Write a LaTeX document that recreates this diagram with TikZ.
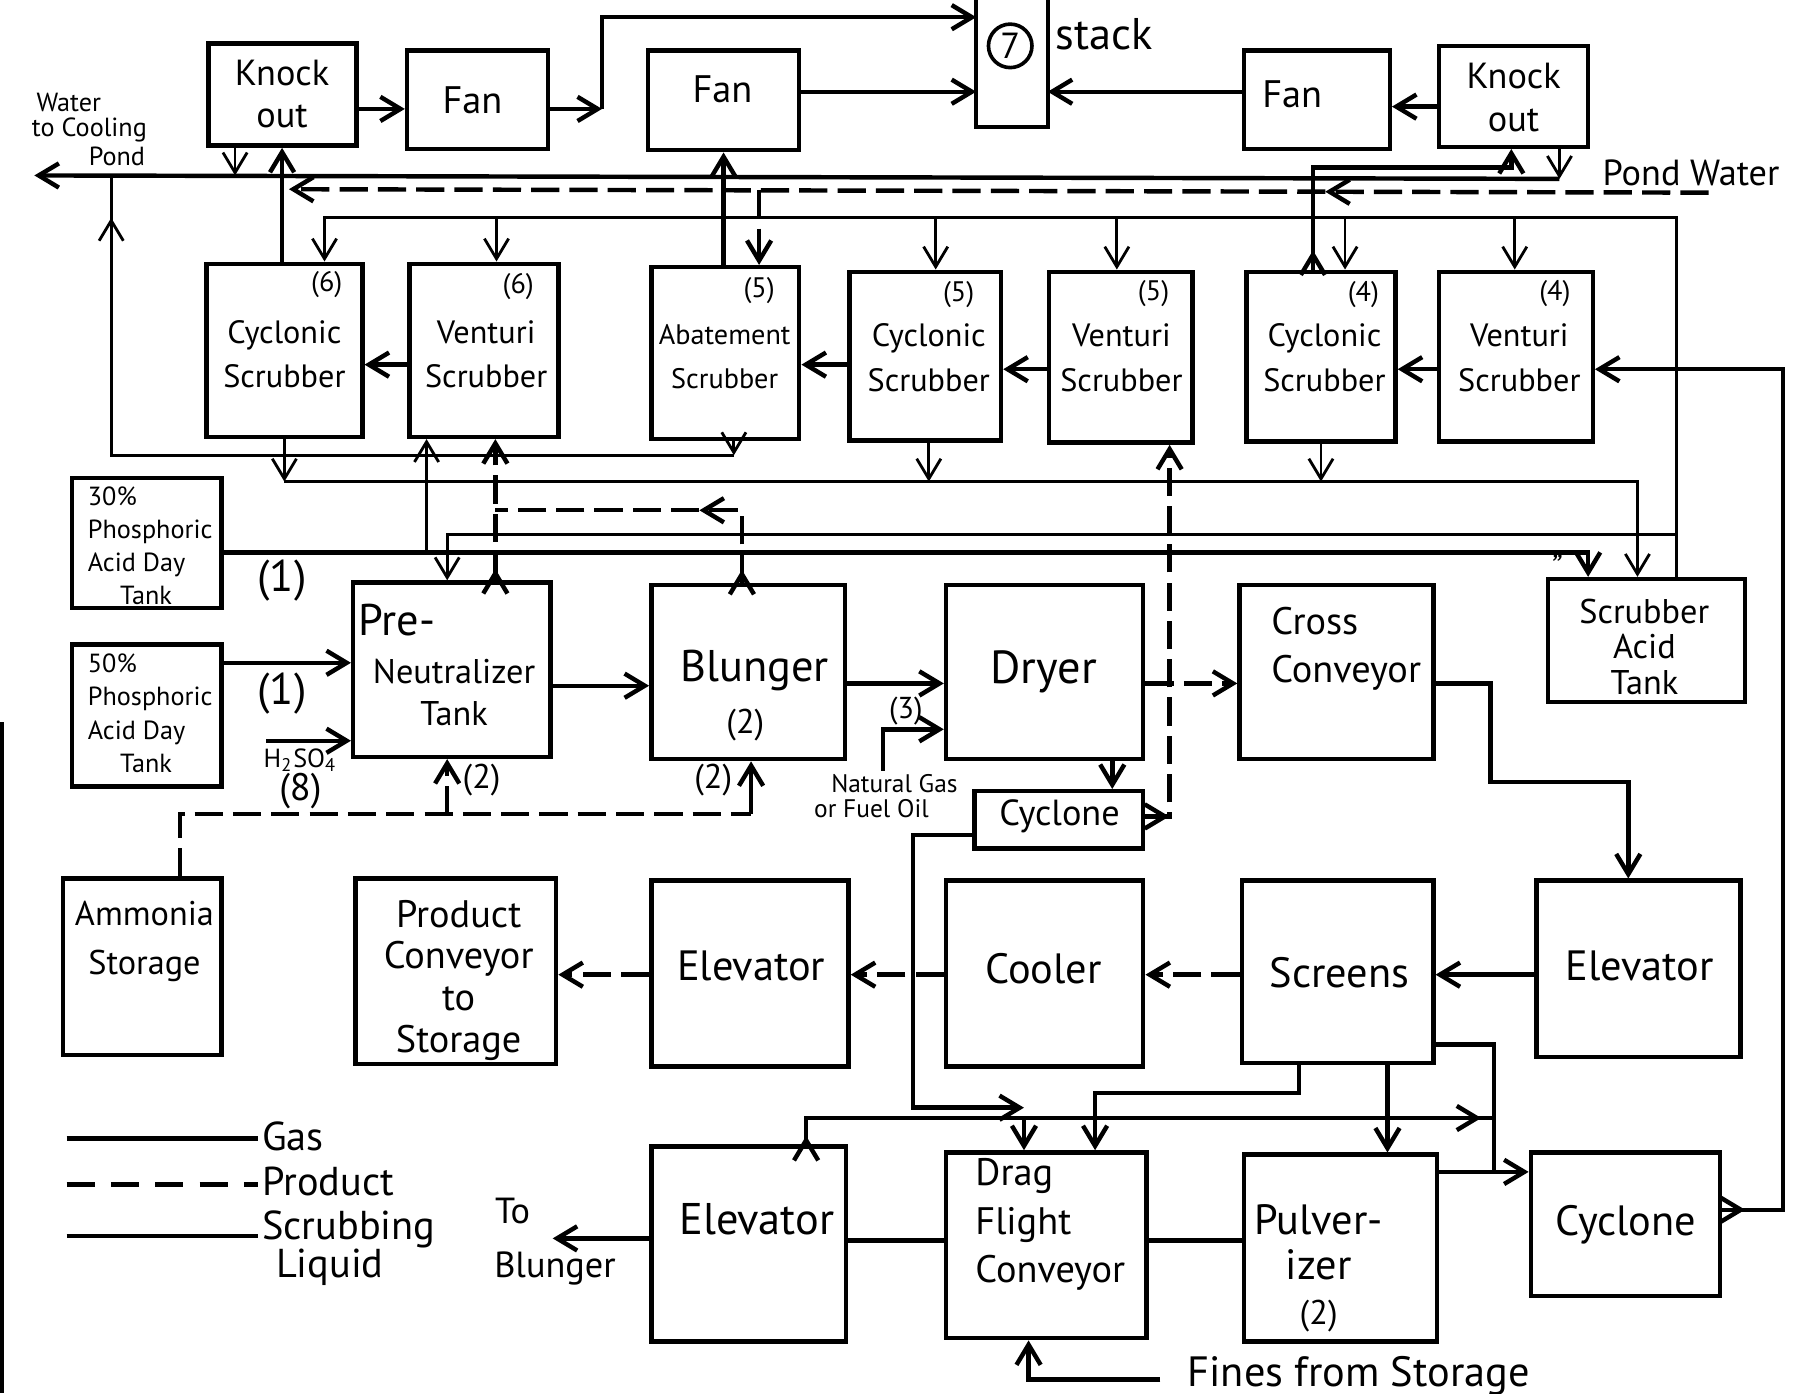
\documentclass[tikz,border=0pt]{standalone}
\usepackage{fontspec}
\setmainfont{PT Sans}
\usetikzlibrary{arrows.meta,fit,decorations.markings}
\newcommand\fz[2]{\fontsize{#1}{#2}\selectfont}
\begin{document}
\begin{tikzpicture}[x=0.01cm,y=-0.01cm,
  >={Straight Barb[length=5pt,width=6pt]},
  box/.style={draw, line width=1.1pt, inner sep=0pt},
  txt/.style={inner sep=0pt, align=center, font=\fz{9}{11}},
  gas/.style={line width=1.1pt},
  liq/.style={line width=0.7pt},
  prod/.style={line width=1.1pt, dash pattern=on 7pt off 2.5pt},
  marr/.style={postaction={decorate, solid, decoration={markings, mark=at position #1 with {\arrow{Straight Barb[length=5pt,width=6pt]}}}}}]
\useasboundingbox (0,0) rectangle (1568,1215);

% ---------- top row ----------
\node[box, fit={(182,38) (311,127)}] (ko1) {};
\node[txt, font=\fz{9}{10.5}] (ko1t) at (246,82) {Knock\\out};
\node[box, fit={(355,44) (478,130)}] (fan1) {};
\node[txt, font=\fz{9.5}{11}] (fan1t) at (412,87) {Fan};
\node[box, fit={(565,44) (697,131)}] (fan2) {};
\node[txt, font=\fz{9.5}{11}] (fan2t) at (630,78) {Fan};
\node[inner sep=0pt, fit={(852,0) (913,110)}] (stack) {};
\draw[line width=1.1pt] (stack.north west) -- (stack.south west) -- (stack.south east) -- (stack.north east);
\node[circle, draw, line width=0.9pt, inner sep=1pt, font=\fz{9}{10}] (n7) at (881,40) {7};
\node[txt, font=\fz{11}{12}, anchor=west] (stackt) at (920,30) {stack};
\node[box, fit={(1085,44) (1212,130)}] (fan3) {};
\node[txt, font=\fz{9.5}{11}] (fan3t) at (1127,82) {Fan};
\node[box, fit={(1255,40) (1385,128)}] (ko2) {};
\node[txt, font=\fz{9}{10.5}] (ko2t) at (1320,85) {Knock\\out};

\node[txt, font=\fz{6.5}{7}] (wt1) at (60,89) {Water};
\node[txt, font=\fz{6.5}{7}] (wt2) at (78,113) {to Cooling};
\node[txt, font=\fz{6.5}{7}] (wt3) at (102,136) {Pond};
\node[txt, font=\fz{9}{10}, anchor=south west] (pwt) at (1397,163) {Pond Water};

% ---------- scrubbers ----------
\node[box, fit={(180,230) (316,381)}] (s6c) {};
\node[box, fit={(357,230) (487,381)}] (s6v) {};
\node[box, fit={(568,233) (697,383)}] (s5a) {};
\node[box, fit={(741,237) (873,384)}] (s5c) {};
\node[box, fit={(915,237) (1040,386)}] (s5v) {};
\node[box, fit={(1087,237) (1217,385)}] (s4c) {};
\node[box, fit={(1255,237) (1389,385)}] (s4v) {};
\node[txt, font=\fz{8}{11}] (s6ct) at (248,309) {Cyclonic\\Scrubber};
\node[txt, font=\fz{8}{11}] (s6vt) at (424,309) {Venturi\\Scrubber};
\node[txt, font=\fz{7}{11}] (s5at) at (632,311) {Abatement\\Scrubber};
\node[txt, font=\fz{8}{11}] (s5ct) at (810,312) {Cyclonic\\Scrubber};
\node[txt, font=\fz{8}{11}] (s5vt) at (978,312) {Venturi\\Scrubber};
\node[txt, font=\fz{8}{11}] (s4ct) at (1155,312) {Cyclonic\\Scrubber};
\node[txt, font=\fz{8}{11}] (s4vt) at (1325,312) {Venturi\\Scrubber};
\node[txt, font=\fz{7}{8}] (g1) at (285,248) {(6)};
\node[txt, font=\fz{7}{8}] (g2) at (452,250) {(6)};
\node[txt, font=\fz{7}{8}] (g3) at (662,253) {(5)};
\node[txt, font=\fz{7}{8}] (g4) at (836,257) {(5)};
\node[txt, font=\fz{7}{8}] (g5) at (1006,256) {(5)};
\node[txt, font=\fz{7}{8}] (g6) at (1189,257) {(4)};
\node[txt, font=\fz{7}{8}] (g7) at (1356,256) {(4)};

% ---------- middle row ----------
\node[box, fit={(63,417) (193,530)}] (t30) {};
\node[txt, font=\fz{6.5}{8.2}, align=left, anchor=west] (t30t) at (76,476) {30\%\\Phosphoric\\Acid Day\\\hspace{8pt}Tank};
\node[box, fit={(63,562) (193,686)}] (t50) {};
\node[txt, font=\fz{6.5}{8.2}, align=left, anchor=west] (t50t) at (76,622) {50\%\\Phosphoric\\Acid Day\\\hspace{8pt}Tank};
\node[box, fit={(308,508) (480,660)}] (pn) {};
\node[txt, font=\fz{11}{12}] (pnt1) at (346,541) {Pre-};
\node[txt, font=\fz{8.5}{10.5}] (pnt2) at (396,604) {Neutralizer\\Tank};
\node[box, fit={(568,510) (737,662)}] (bl) {};
\node[txt, font=\fz{11}{12}] (blt) at (658,585) {Blunger};
\node[txt, font=\fz{8.5}{10}] (blt2) at (650,632) {(2)};
\node[box, fit={(825,510) (997,662)}] (dr) {};
\node[txt, font=\fz{11.5}{12}] (drt) at (910,586) {Dryer};
\node[box, fit={(1081,510) (1250,662)}] (cc) {};
\node[txt, font=\fz{9.5}{12}, align=left, anchor=west] (cct) at (1108,566) {Cross\\Conveyor};
\node[box, fit={(1350,505) (1522,612)}] (sat) {};
\node[txt, font=\fz{8.5}{8.8}] (satt) at (1434,564) {Scrubber\\Acid\\Tank};
\node[box, fit={(850,690) (997,740)}] (cy1) {};
\node[txt, font=\fz{9}{10}] (cy1t) at (924,712) {Cyclone};

\node[txt, font=\fz{11}{12}] (l1a) at (246,506) {(1)};
\node[txt, font=\fz{11}{12}] (l1b) at (246,605) {(1)};
\node[txt, font=\fz{6.5}{7}] (lh2) at (262,663) {H\textsubscript{2}SO\textsubscript{4}};
\node[txt, font=\fz{9.5}{10}] (l8) at (262,690) {(8)};
\node[txt, font=\fz{8.5}{10}] (l2a) at (420,680) {(2)};
\node[txt, font=\fz{8.5}{10}] (l2b) at (622,680) {(2)};
\node[txt, font=\fz{7.5}{8}] (l3) at (790,620) {(3)};
\node[txt, font=\fz{6.3}{7}] (lng1) at (780,683) {Natural Gas};
\node[txt, font=\fz{6.3}{7}] (lng2) at (760,705) {or Fuel Oil};
\node[txt, font=\fz{8}{9}] (ldit) at (1356,494) {\itshape ''};

% ---------- bottom rows ----------
\node[box, fit={(55,766) (193,920)}] (am) {};
\node[txt, font=\fz{8.5}{12}] (amt) at (126,821) {Ammonia\\Storage};
\node[box, fit={(310,766) (485,928)}] (pc) {};
\node[txt, font=\fz{9.5}{10.4}] (pct) at (400,855) {Product\\Conveyor\\to\\Storage};
\node[box, fit={(568,768) (740,930)}] (el1) {};
\node[txt, font=\fz{10.5}{12}] (el1t) at (655,842) {Elevator};
\node[box, fit={(825,768) (997,930)}] (co) {};
\node[txt, font=\fz{10.5}{12}] (cot) at (910,845) {Cooler};
\node[box, fit={(1083,768) (1250,927)}] (sc) {};
\node[txt, font=\fz{10.5}{12}] (sct) at (1168,848) {Screens};
\node[box, fit={(1340,768) (1518,922)}] (el2) {};
\node[txt, font=\fz{10.5}{12}] (el2t) at (1430,842) {Elevator};
\node[box, fit={(568,1000) (738,1170)}] (el3) {};
\node[txt, font=\fz{11}{13}] (el3t) at (660,1063) {Elevator};
\node[box, fit={(825,1005) (1000,1167)}] (dfc) {};
\node[txt, font=\fz{9.5}{12}, align=left, anchor=west] (dfct) at (850,1068) {Drag\\Flight\\Conveyor};
\node[box, fit={(1085,1007) (1253,1170)}] (pu) {};
\node[txt, font=\fz{10.5}{11.2}] (put) at (1150,1106) {Pulver-\\izer\\{\fz{8.5}{10}(2)}};
\node[box, fit={(1335,1005) (1500,1130)}] (cy2) {};
\node[txt, font=\fz{10.5}{12}] (cy2t) at (1418,1068) {Cyclone};

\node[txt, font=\fz{9}{10}] (tbt1) at (447,1056) {To};
\node[txt, font=\fz{9}{10}] (tbt2) at (484,1106) {Blunger};
\node[txt, font=\fz{10.5}{12}, anchor=west] (fst) at (1035,1200) {Fines from Storage};

% legend
\coordinate (lg1a) at (58,993); \coordinate (lg1b) at (225,993);
\coordinate (lg2a) at (58,1033); \coordinate (lg2b) at (225,1033);
\coordinate (lg3a) at (58,1078); \coordinate (lg3b) at (225,1078);
\draw[gas] (lg1a) -- (lg1b);
\draw[prod, dash pattern=on 7pt off 4pt] (lg2a) -- (lg2b);
\draw[gas] (lg3a) -- (lg3b);
\node[txt, font=\fz{10}{11}, anchor=west] (lgt1) at (228,991) {Gas};
\node[txt, font=\fz{10}{11}, anchor=west] (lgt2) at (228,1030) {Product};
\node[txt, font=\fz{10}{11}, anchor=west] (lgt3) at (228,1072) {Scrubbing};
\node[txt, font=\fz{10}{11}, anchor=west] (lgt4) at (240,1105) {Liquid};

% page edge
\coordinate (pe1) at (2,630); \coordinate (pe2) at (2,1215);
\draw[line width=1pt] (pe1) -- (pe2);

% ---------- connectors: top ----------
\draw[gas,->] (ko1.east |- 0,95) -- (fan1.west |- 0,95);
\coordinate (c1) at (525,95);
\draw[gas,->] (fan1.east |- 0,95) -- (c1);
\draw[gas,->] (c1) |- (stack.west |- 0,15);
\draw[gas,->] (fan2.east |- 0,80) -- (stack.west |- 0,80);
\draw[gas,->] (fan3.west |- 0,80) -- (stack.east |- 0,80);
\draw[gas,->] (ko2.west |- 0,93) -- (fan3.east |- 0,93);

\coordinate (wcp) at (30,153);
\coordinate (l1r) at (1360,156);
\draw[gas,->] (l1r) -- (wcp);
\draw[liq,->] (ko1.south -| 205,0) -- (205,153);
\draw[liq,->] (ko2.south -| 1360,0) -- (l1r);

\coordinate (pw) at (1490,168);
\draw[prod,->, marr=0.27] (pw) -- (252,165);
\draw[prod,->] (662,166) -- (s5a.north -| 662,0);

\draw[gas,->] (s6c.north -| 246,0) -- (ko1.south -| 246,0);
\draw[gas,->] (s5a.north -| 631,0) -- (fan2.south -| 631,0);
\draw[gas,->, marr=0.06] (s4c.north -| 1145,0) |- (1318,146) -- (ko2.south -| 1318,0);

% scrubbing liquid distribution
\coordinate (sd) at (1462,190);
\draw[liq,->] (sat.north -| 1462,0) -- (sd) -- (283,190) -- (s6c.north -| 283,0);
\foreach \xx/\nn in {433/s6v, 816/s5c, 974/s5v, 1173/s4c, 1321/s4v}
  \draw[liq,->] (\xx,190) -- (\nn.north -| \xx,0);

% gas through scrubbers
\draw[gas,->] (s6v.west |- 0,318) -- (s6c.east |- 0,318);
\draw[gas,->] (s5c.west |- 0,318) -- (s5a.east |- 0,318);
\draw[gas,->] (s5v.west |- 0,322) -- (s5c.east |- 0,322);
\draw[gas,->] (s4v.west |- 0,322) -- (s4c.east |- 0,322);
\draw[gas,->, marr=0.021] (cy2.east |- 0,1055) -- (1555,1055) |- (s4v.east |- 0,322);

% liquid returns below scrubbers
\coordinate (rt) at (640,397);
\draw[liq,->] (s5a.south -| 640,0) -- (rt);
\draw[liq, marr=0.953] (rt) -| (97,153);
\draw[liq,->] (s6c.south -| 248,0) -- (248,420);
\draw[liq,->] (248,420) -| (sat.north -| 1428,0);
\draw[liq,->] (s5c.south -| 810,0) -- (810,420);
\draw[liq,->] (s4c.south -| 1152,0) -- (1152,420);

\draw[gas,->] (t30.east |- 0,482) -| (sat.north -| 1385,0);
\draw[liq,->] (372,482) -- (s6v.south -| 372,0);
\draw[liq,->] (1462,466) -| (pn.north -| 390,0);
\draw[prod,->, marr=0.08] (pn.north -| 432,0) -- (s6v.south -| 432,0);
\draw[prod, marr=0.04, marr=0.36] (bl.north -| 647,0) |- (432,445);
\draw[prod,->, marr=0.06] (cy1.east |- 0,712) -- (1020,712) -- (s5v.south -| 1020,0);

% ---------- connectors: middle ----------
\draw[gas,->] (t50.east |- 0,578) -- (pn.west |- 0,578);
\coordinate (h2) at (232,646);
\draw[gas,->] (h2) -- (pn.west |- 0,646);
\draw[gas,->] (pn.east |- 0,598) -- (bl.west |- 0,598);
\draw[gas,->] (bl.east |- 0,596) -- (dr.west |- 0,596);
\coordinate (ng) at (770,672);
\draw[gas,->] (ng) |- (dr.west |- 0,636);
\draw[prod,->] (dr.east |- 0,596) -- (cc.west |- 0,596);
\draw[prod,->] (dr.south -| 970,0) -- (cy1.north -| 970,0);
\draw[gas,->] (cc.east |- 0,596) -| (1300,682) -| (el2.north -| 1420,0);

\draw[prod] (am.north -| 157,0) |- (655,710);
\draw[prod,->] (390,710) -- (pn.south -| 390,0);
\draw[gas,->] (655,710) -- (bl.south -| 655,0);

% ---------- connectors: bottom ----------
\draw[gas,->] (el2.west |- 0,850) -- (sc.east |- 0,850);
\draw[prod,->] (sc.west |- 0,850) -- (co.east |- 0,850);
\draw[prod,->] (co.west |- 0,850) -- (el1.east |- 0,850);
\draw[prod,->] (el1.west |- 0,850) -- (pc.east |- 0,850);
\draw[gas,->] (cy1.west |- 0,728) -| (796,966) -- (893,966);
\draw[gas,->] (893,975) -- (dfc.north -| 893,0);
\draw[gas,->] (sc.south -| 1133,0) |- (955,953) -- (dfc.north -| 955,0);
\draw[gas, marr=0.012, marr=0.982] (el3.north -| 703,0) |- (1303,975);
\draw[gas,->] (sc.east |- 0,911) -| (1303,1022) -- (cy2.west |- 0,1022);
\draw[gas] (pu.east |- 0,1022) -- (1303,1022);
\draw[gas,->] (sc.south -| 1210,0) -- (pu.north -| 1210,0);
\draw[gas] (dfc.west |- 0,1082) -- (el3.east |- 0,1082);
\draw[gas] (dfc.east |- 0,1082) -- (pu.west |- 0,1082);
\coordinate (tb) at (482,1080);
\draw[gas,->] (el3.west |- 0,1080) -- (tb);
\coordinate (fs) at (1012,1203);
\draw[gas,->] (fs) -| (dfc.south -| 897,0);
\end{tikzpicture}
\end{document}
